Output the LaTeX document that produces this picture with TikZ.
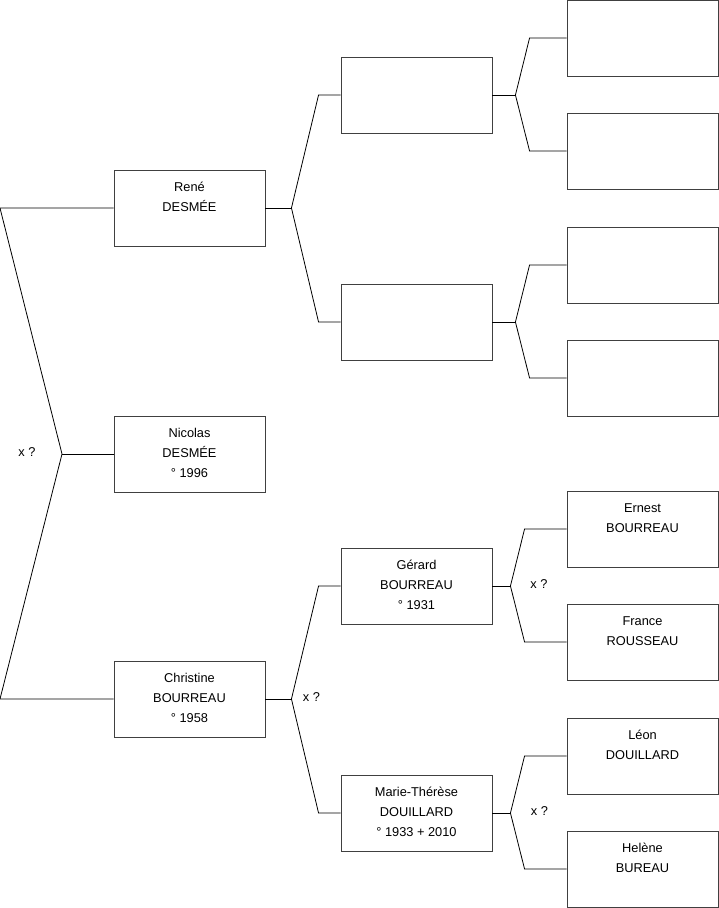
\documentclass[tikz,border=0pt]{standalone}
\usepackage{fontspec}
\setmainfont{Liberation Sans}
\newcommand{\fiche}[1]{\parbox[t][76pt][t]{151pt}{\centering\rule{0pt}{21.5pt}#1}}
\begin{document}
\begin{tikzpicture}[x = 1pt, y = -1pt, font = \fontsize{12.8}{20}\selectfont,
        boite/.style = {draw = black!75, line width = 0.9pt, inner sep = 0pt},
        lien/.style = {draw = black, line width = 0.8pt}]
        \useasboundingbox (0, 0) rectangle (719, 908);
        \node[boite] (p1) at (189.5, 454) {\fiche{Nicolas\\DESMÉE\\° 1996}};
        \node[boite] (p2) at (189.5, 208) {\fiche{René\\DESMÉE}};
        \node[boite] (p3) at (189.5, 699) {\fiche{Christine\\BOURREAU\\° 1958}};
        \node[boite] (p4) at (416.5, 95) {\fiche{}};
        \node[boite] (p5) at (416.5, 322) {\fiche{}};
        \node[boite] (p6) at (416.5, 586) {\fiche{Gérard\\BOURREAU\\° 1931}};
        \node[boite] (p7) at (416.5, 813) {\fiche{Marie-Thérèse\\DOUILLARD\\° 1933 + 2010}};
        \foreach \n/\y/\txt in {8/38/{}, 9/151/{}, 10/265/{}, 11/378/{},
            12/529/{Ernest\\BOURREAU}, 13/642/{France\\ROUSSEAU},
            14/756/{Léon\\DOUILLARD}, 15/869/{Helène\\BUREAU}}{
            \node[boite] (p\n) at (642.5, \y) {\fiche{\txt}};
        }
        % unions
        \node (m1) at (27, 452) {x ?};
        \node (m3) at (311.5, 697) {x ?};
        \node (m6) at (539, 584) {x ?};
        \node (m7) at (539.5, 811) {x ?};
        % first fork
        \coordinate (f1) at (62, 454);
        \coordinate (c2) at (0, 208);
        \coordinate (c3) at (0, 699);
        \draw[lien] (p2.west) -- (c2) -- (f1) -- (c3) -- (p3.west);
        \draw[lien] (f1) -- (p1.west);
        \foreach \c/\d/\e in {2/26/22, 3/26/22, 4/23/37, 5/23/37, 6/18/42, 7/18/42}{
            \pgfmathtruncatemacro{\pa}{2 * \c}
            \pgfmathtruncatemacro{\ma}{2 * \c + 1}
            \draw[lien] (p\c.east) -- ([xshift = \d pt] p\c.east) coordinate (f\c);
            \draw[lien] (p\pa.west) -- ([xshift = -\e pt] p\pa.west) -- (f\c)
                -- ([xshift = -\e pt] p\ma.west) -- (p\ma.west);
        }
    \end{tikzpicture}
\end{document}
